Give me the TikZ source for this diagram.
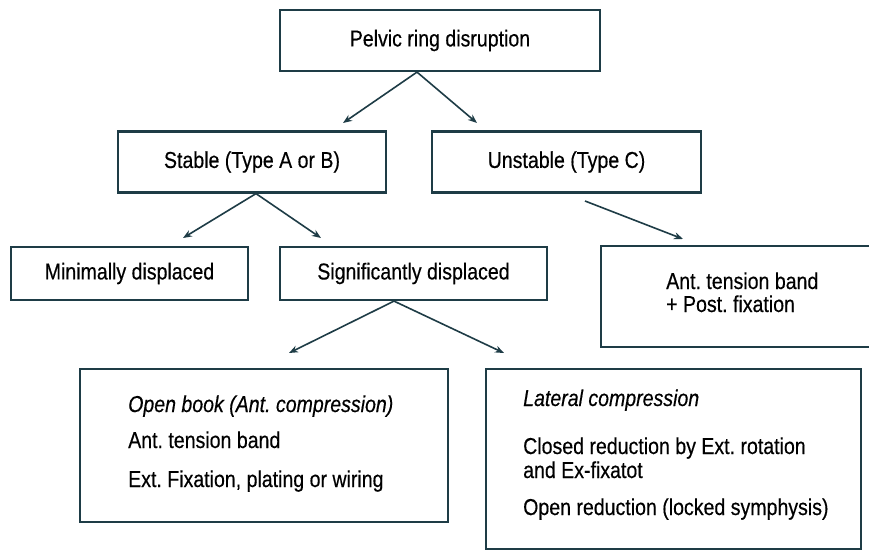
\documentclass[tikz,border=0pt]{standalone}
\usepackage{fontspec}
\setmainfont{Liberation Sans}[FakeStretch=0.85,FakeBold=0.4]
\usetikzlibrary{arrows.meta,calc}
\definecolor{lineclr}{RGB}{30,60,70}
\frenchspacing
\begin{document}
\begin{tikzpicture}[x=1pt,y=-1pt,
  every node/.style={font=\fontsize{23}{24}\selectfont},
  box/.style={draw=lineclr,line width=2.2pt,inner sep=0pt,fill=white},
  arr/.style={draw=lineclr,line width=1.6pt,-{Stealth[length=9pt,width=7pt]}},
  txt/.style={inner sep=0pt,anchor=base west}]
\useasboundingbox (0,0) rectangle (869,551);
\clip (0,0) rectangle (869,551);
\fill[white] (0,0) rectangle (869,551);
% boxes
\node[box,minimum width=320pt,minimum height=61pt] (top) at (440,40.5) {Pelvic ring disruption};
\node[box,minimum width=268pt,minimum height=61pt] (stable) at (252,162) {Stable (Type A or B)};
\node[box,minimum width=269pt,minimum height=61pt] (unstable) at (566.5,162) {Unstable (Type C)};
\node[box,minimum width=237pt,minimum height=53pt] (minimal) at (129.5,273.5) {Minimally displaced};
\node[box,minimum width=267pt,minimum height=53pt] (signif) at (413.5,273.5) {Significantly displaced};
\node[box,minimum width=280pt,minimum height=101pt] (post) at (741,296.5) {};
\node[txt] (pt1) at (666,289) {Ant. tension band};
\node[txt] (pt2) at (666,312) {+ Post. fixation};
\node[box,minimum width=368pt,minimum height=153pt] (openbook) at (264,445.5) {};
\node[txt] (ob1) at (128,412) {\itshape Open book (Ant. compression)};
\node[txt] (ob2) at (128,448) {Ant. tension band};
\node[txt] (ob3) at (128,487) {Ext. Fixation, plating or wiring};
\node[box,minimum width=375pt,minimum height=180pt] (lateral) at (673.5,459) {};
\node[txt] (lc1) at (523,406) {\itshape Lateral compression};
\node[txt] (lc2) at (523,454) {Closed reduction by Ext. rotation};
\node[txt] (lc3) at (523,478) {and Ex-fixatot};
\node[txt] (lc4) at (523,515) {Open reduction (locked symphysis)};
% arrow end points
\coordinate (e1) at (343,123);
\coordinate (e2) at (477,123);
\coordinate (e3) at (183,238);
\coordinate (e4) at (321,238);
\coordinate (s5) at (585,201);
\coordinate (e5) at (683,239);
\coordinate (e6) at (289,353);
\coordinate (e7) at (504,353);
% connectors
\draw[arr] ($(top.south)+(-23,0)$) -- (e1);
\draw[arr] ($(top.south)+(-23,0)$) -- (e2);
\draw[arr] ($(stable.south)+(4,0)$) -- (e3);
\draw[arr] ($(stable.south)+(4,0)$) -- (e4);
\draw[arr] (s5) -- (e5);
\draw[arr] ($(signif.south)+(-19.5,0)$) -- (e6);
\draw[arr] ($(signif.south)+(-19.5,0)$) -- (e7);
\end{tikzpicture}
\end{document}
